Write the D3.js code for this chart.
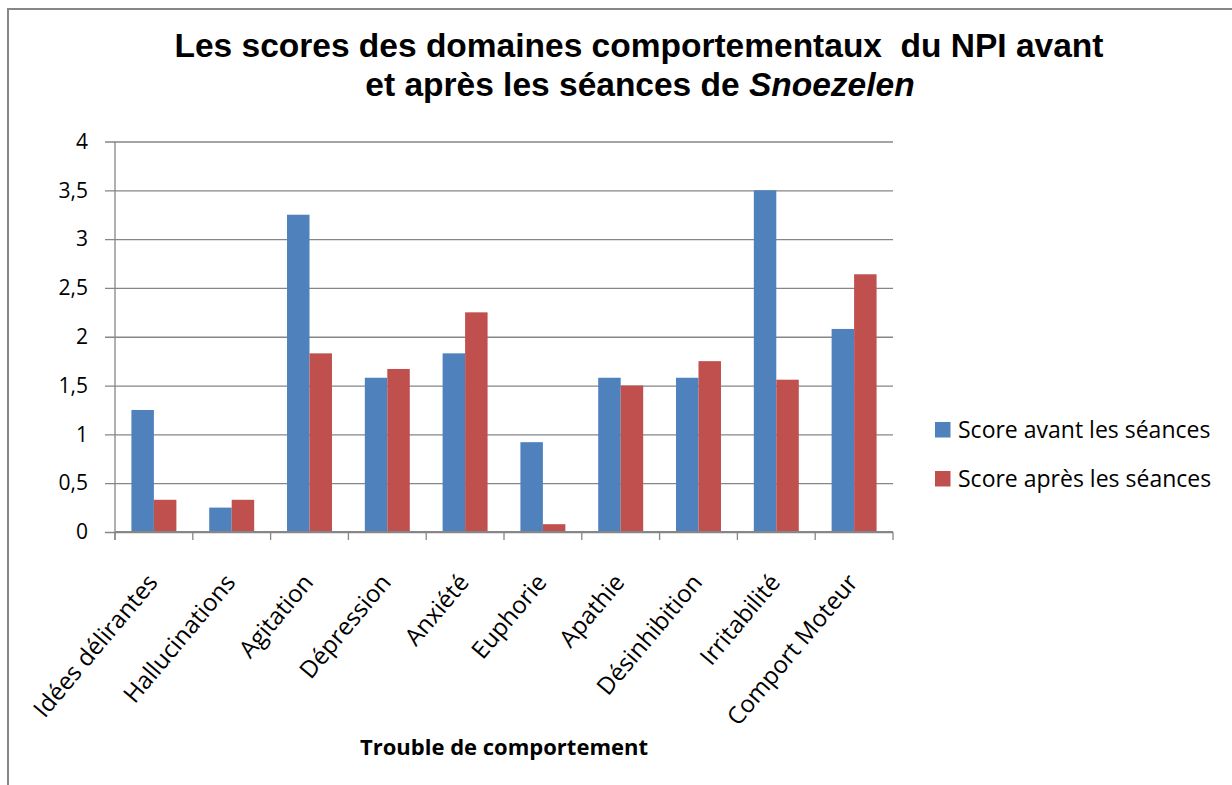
<!DOCTYPE html>
<html>
<head>
<meta charset="utf-8">
<script src="https://cdn.jsdelivr.net/npm/d3@7"></script>
<style>
  body { margin: 0; background: #fff; }
  svg { display: block; }
</style>
</head>
<body>
<svg id="chart" width="1232" height="785"></svg>
<script>
// categories and values
const categories = ["Idées délirantes", "Hallucinations", "Agitation", "Dépression", "Anxiété",
  "Euphorie", "Apathie", "Désinhibition", "Irritabilité", "Comport Moteur"];
const seriesNames = ["Score avant les séances", "Score après les séances"];
const avant = [1.25, 0.25, 3.25, 1.58, 1.83, 0.92, 1.58, 1.58, 3.5, 2.08];
const apres = [0.33, 0.33, 1.83, 1.67, 2.25, 0.08, 1.5, 1.75, 1.56, 2.64];
const yTicks = [0, 0.5, 1, 1.5, 2, 2.5, 3, 3.5, 4];
const colors = ["#4F81BD", "#C0504D"];

const font = "'Open Sans', sans-serif";
const gridColor = "#868686";

const svg = d3.select("#chart");

// chart frame (only top and left edges are visible in the crop)
svg.append("path")
  .attr("d", "M8,785 V9 H1232")
  .attr("fill", "none")
  .attr("stroke", "#878787")
  .attr("stroke-width", 2);

const plot = { left: 115, right: 893, top: 141.5, bottom: 532 };

const x0 = d3.scaleBand()
  .domain(categories)
  .range([plot.left, plot.right])
  .padding(0);

const x1 = d3.scaleBand()
  .domain(seriesNames)
  .range([0, x0.bandwidth()])
  .paddingInner(0)
  .paddingOuter(0.73);

const y = d3.scaleLinear()
  .domain([0, 4])
  .range([plot.bottom, plot.top]);

const fmt = d => String(d).replace(".", ",");

// gridlines + y axis
const yAxis = svg.append("g")
  .attr("transform", `translate(${plot.left},0)`)
  .call(d3.axisLeft(y)
    .tickValues(yTicks)
    .tickSize(-(plot.right - plot.left))
    .tickFormat(fmt)
    .tickPadding(27));
yAxis.select(".domain").remove();
yAxis.selectAll(".tick line")
  .attr("stroke", gridColor)
  .attr("stroke-width", 1.3)
  .attr("x2", plot.right - plot.left)
  .attr("x1", -10);
yAxis.selectAll(".tick text")
  .attr("font-family", font)
  .attr("font-size", 21)
  .attr("fill", "#000");

// vertical axis line
svg.append("line")
  .attr("x1", plot.left).attr("x2", plot.left)
  .attr("y1", plot.top).attr("y2", plot.bottom + 8)
  .attr("stroke", gridColor)
  .attr("stroke-width", 1.3);

// bars
const rows = categories.map((c, i) => ({ cat: c, vals: [avant[i], apres[i]] }));
const groups = svg.append("g").selectAll("g")
  .data(rows)
  .join("g")
  .attr("transform", d => `translate(${x0(d.cat)},0)`);

groups.selectAll("rect")
  .data(d => d.vals.map((v, k) => ({ key: seriesNames[k], v, k })))
  .join("rect")
  .attr("x", d => x1(d.key))
  .attr("width", x1.bandwidth())
  .attr("y", d => y(d.v))
  .attr("height", d => y(0) - y(d.v))
  .attr("fill", d => colors[d.k]);

// x axis with category boundary ticks
svg.append("line")
  .attr("x1", plot.left).attr("x2", plot.right)
  .attr("y1", plot.bottom).attr("y2", plot.bottom)
  .attr("stroke", gridColor)
  .attr("stroke-width", 2);

const bounds = categories.map(c => x0(c)).concat([plot.right]);
svg.append("g").selectAll("line")
  .data(bounds)
  .join("line")
  .attr("x1", d => d).attr("x2", d => d)
  .attr("y1", plot.bottom).attr("y2", plot.bottom + 8)
  .attr("stroke", gridColor)
  .attr("stroke-width", 1.3);

// rotated category labels (the reference slope is a bit steeper than 45deg)
svg.append("g").selectAll("text")
  .data(categories)
  .join("text")
  .attr("transform", d => `translate(${x0(d) + x0.bandwidth() / 2 + 5},${plot.bottom + 51}) rotate(-50)`)
  .attr("text-anchor", "end")
  .attr("font-family", font)
  .attr("font-size", 24)
  .attr("fill", "#000")
  .text(d => d);

// x axis title
svg.append("text")
  .attr("x", (plot.left + plot.right) / 2)
  .attr("y", 755)
  .attr("text-anchor", "middle")
  .attr("font-family", font)
  .attr("font-weight", "bold")
  .attr("font-size", 22)
  .text("Trouble de comportement");

// title
const titleFont = "'Liberation Sans', Arial, sans-serif";
svg.append("text")
  .attr("x", 639)
  .attr("y", 57)
  .attr("text-anchor", "middle")
  .attr("font-family", titleFont)
  .attr("font-weight", "bold")
  .attr("font-size", 33.5)
  .attr("xml:space", "preserve")
  .text("Les scores des domaines comportementaux  du NPI avant");

const t2 = svg.append("text")
  .attr("x", 640)
  .attr("y", 96)
  .attr("text-anchor", "middle")
  .attr("font-family", titleFont)
  .attr("font-weight", "bold")
  .attr("font-size", 33.5);
t2.append("tspan").text("et après les séances de ");
t2.append("tspan").attr("font-style", "italic").text("Snoezelen");

// legend
const legend = svg.append("g").selectAll("g")
  .data(seriesNames)
  .join("g")
  .attr("transform", (d, i) => `translate(935,${422 + i * 49})`);
legend.append("rect")
  .attr("width", 15.5)
  .attr("height", 15.5)
  .attr("fill", (d, i) => colors[i]);
legend.append("text")
  .attr("x", 23)
  .attr("y", 15.5)
  .attr("font-family", font)
  .attr("font-size", 23)
  .attr("fill", "#000")
  .text(d => d);
</script>
</body>
</html>
